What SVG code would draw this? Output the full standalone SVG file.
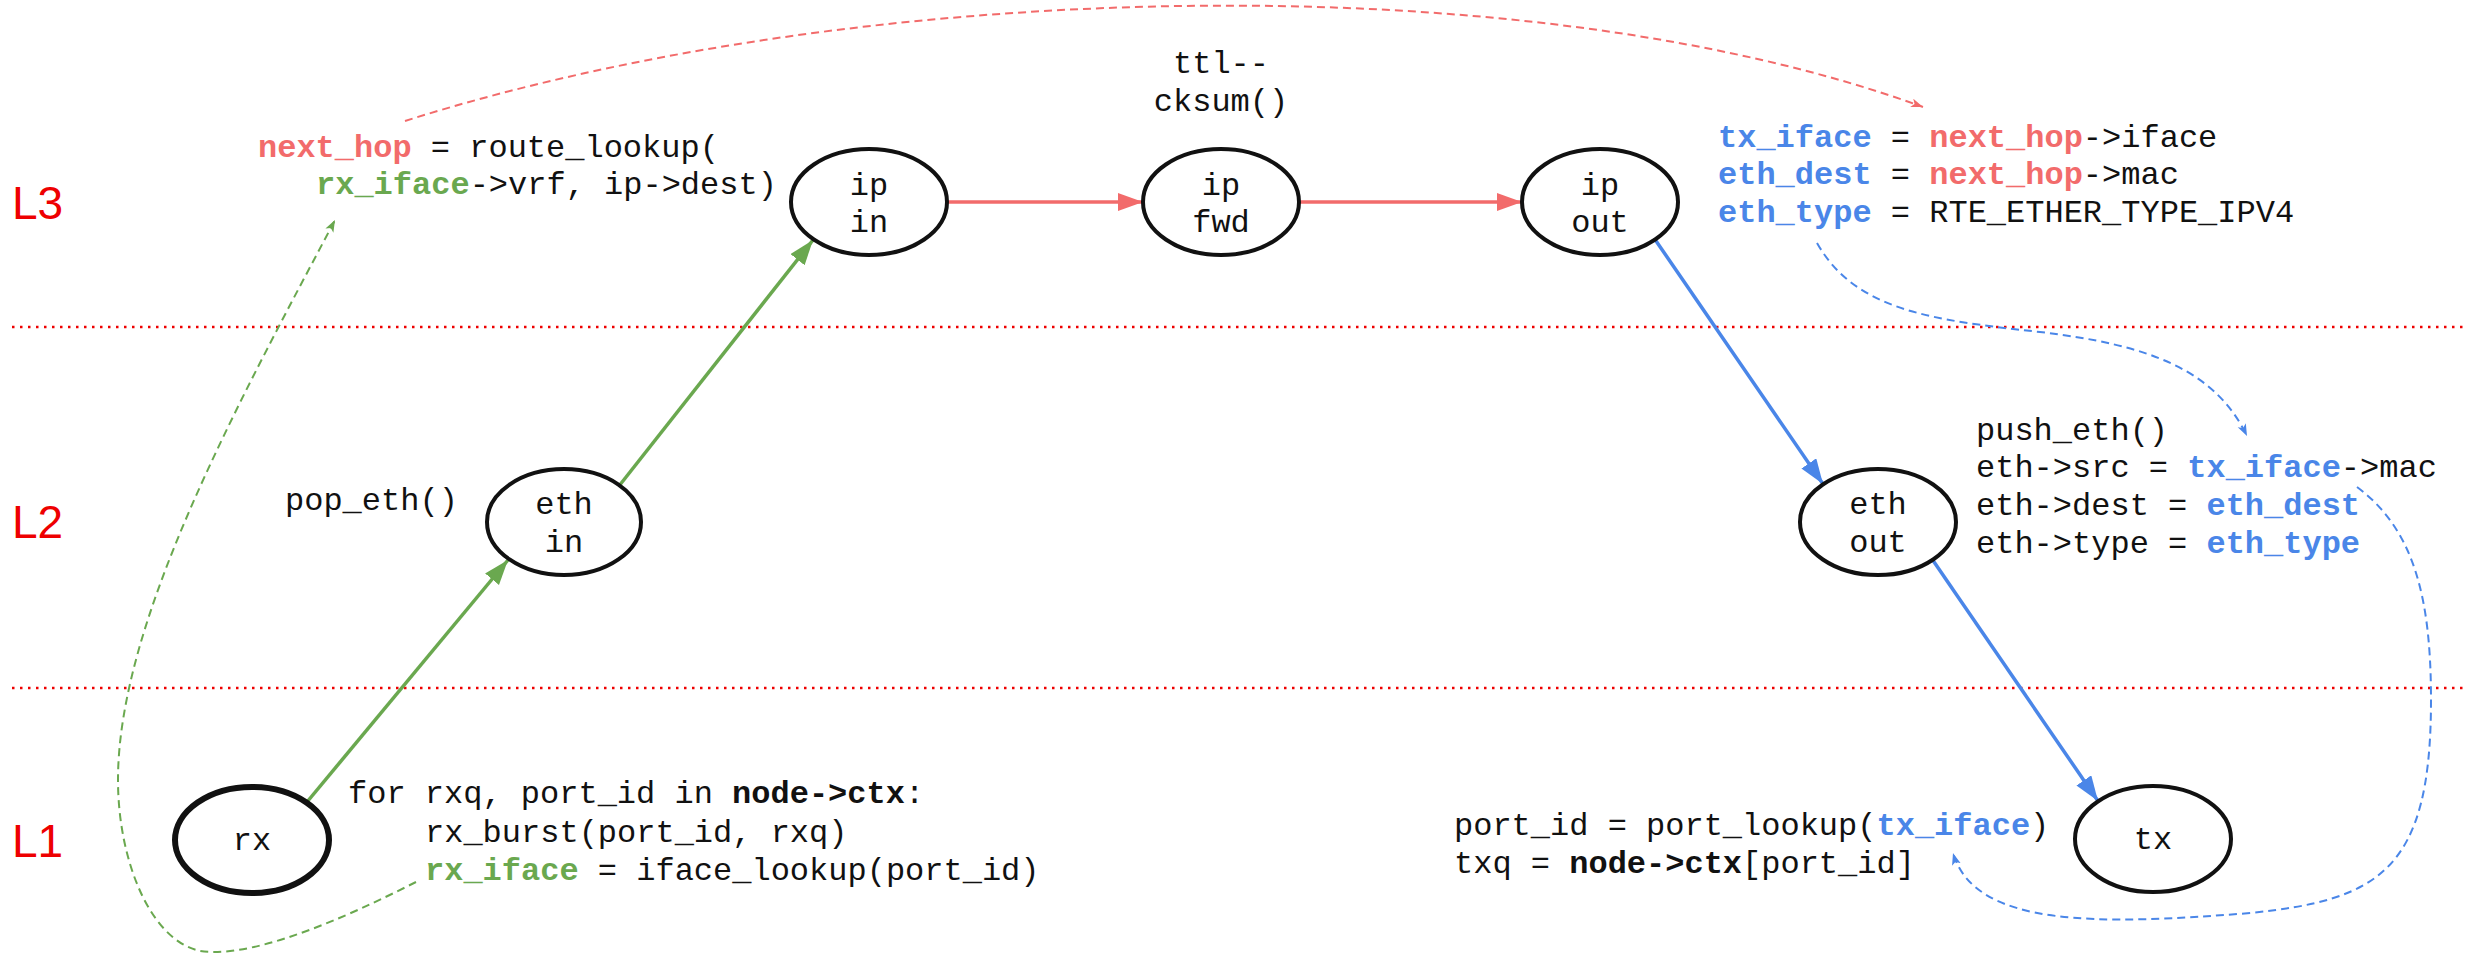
<svg xmlns="http://www.w3.org/2000/svg" width="2468" height="955" viewBox="0 0 2468 955">
<style>
.code{font-family:"Liberation Mono","DejaVu Sans Mono",monospace;font-size:32px;fill:#111}
.b{font-weight:bold}
.r{fill:#f26b6b;font-weight:bold}
.g{fill:#6aa84f;font-weight:bold}
.bl{fill:#4a86e8;font-weight:bold}
.node ellipse{fill:#fff;stroke:#111;stroke-width:4}
.lbl{font-family:"Liberation Mono","DejaVu Sans Mono",monospace;font-size:32px;text-anchor:middle;fill:#111}
.layer{font-family:"Liberation Sans",Arial,sans-serif;font-size:46px;fill:#e00}
.sep{stroke:#e00;stroke-width:2.5;stroke-dasharray:2.5 5.5;fill:none}
.e{fill:none;stroke-width:3.5}
.d{fill:none;stroke-width:2;stroke-dasharray:8 5}
</style>
<defs>
<marker id="ar" markerUnits="userSpaceOnUse" markerWidth="26" markerHeight="20" refX="25" refY="9" orient="auto"><path d="M0,0 L25,9 L0,18 z" fill="#f26b6b"/></marker>
<marker id="ag" markerUnits="userSpaceOnUse" markerWidth="26" markerHeight="20" refX="25" refY="9" orient="auto"><path d="M0,0 L25,9 L0,18 z" fill="#6aa84f"/></marker>
<marker id="ab" markerUnits="userSpaceOnUse" markerWidth="26" markerHeight="20" refX="25" refY="9" orient="auto"><path d="M0,0 L25,9 L0,18 z" fill="#4a86e8"/></marker>
<marker id="dr" markerUnits="userSpaceOnUse" markerWidth="14" markerHeight="10" refX="12" refY="4.5" orient="auto"><path d="M0,0 L12,4.5 L0,9 L3,4.5 z" fill="#f26b6b"/></marker>
<marker id="dg" markerUnits="userSpaceOnUse" markerWidth="14" markerHeight="10" refX="12" refY="4.5" orient="auto"><path d="M0,0 L12,4.5 L0,9 L3,4.5 z" fill="#6aa84f"/></marker>
<marker id="db" markerUnits="userSpaceOnUse" markerWidth="14" markerHeight="10" refX="12" refY="4.5" orient="auto"><path d="M0,0 L12,4.5 L0,9 L3,4.5 z" fill="#4a86e8"/></marker>
</defs>
<rect width="2468" height="955" fill="#fff"/>

<g id="layers">
<line class="sep" x1="12" y1="327" x2="2468" y2="327"/>
<line class="sep" x1="12" y1="688" x2="2468" y2="688"/>
<text class="layer" x="12" y="219">L3</text>
<text class="layer" x="12" y="538">L2</text>
<text class="layer" x="12" y="857">L1</text>
</g>

<g id="connectors">
<line class="e" x1="947" y1="202" x2="1143" y2="202" stroke="#f26b6b" marker-end="url(#ar)"/>
<line class="e" x1="1299" y1="202" x2="1522" y2="202" stroke="#f26b6b" marker-end="url(#ar)"/>
<line class="e" x1="307" y1="802" x2="508" y2="560" stroke="#6aa84f" marker-end="url(#ag)"/>
<line class="e" x1="619" y1="486" x2="813" y2="240" stroke="#6aa84f" marker-end="url(#ag)"/>
<line class="e" x1="1654" y1="238" x2="1823" y2="484" stroke="#4a86e8" marker-end="url(#ab)"/>
<line class="e" x1="1932" y1="559" x2="2098" y2="801" stroke="#4a86e8" marker-end="url(#ab)"/>
<path class="d" d="M405,121 C850,-20 1520,-40 1923,107" stroke="#f26b6b" marker-end="url(#dr)"/>
<path class="d" d="M416,882 C370,905 260,960 200,951 C150,940 118,860 118,780 C118,620 240,400 335,220" stroke="#6aa84f" marker-end="url(#dg)"/>
<path class="d" d="M1817,243 C1855,310 1930,320 2040,332 C2150,345 2215,370 2247,436" stroke="#4a86e8" marker-end="url(#db)"/>
<path class="d" d="M2357,487 C2415,530 2431,600 2431,700 C2431,870 2380,900 2250,913 C2100,925 1975,928 1953,853" stroke="#4a86e8" marker-end="url(#db)"/>
</g>

<g id="rx" class="node"><ellipse cx="252" cy="840" rx="77" ry="53" style="stroke-width:6"/><text class="lbl" x="252" y="850">rx</text></g>
<g id="eth_in" class="node"><ellipse cx="564" cy="522" rx="77" ry="53"/><text class="lbl" x="564" y="514">eth</text><text class="lbl" x="564" y="552">in</text></g>
<g id="ip_in" class="node"><ellipse cx="869" cy="202" rx="78" ry="53"/><text class="lbl" x="869" y="195">ip</text><text class="lbl" x="869" y="232">in</text></g>
<g id="ip_fwd" class="node"><ellipse cx="1221" cy="202" rx="78" ry="53"/><text class="lbl" x="1221" y="195">ip</text><text class="lbl" x="1221" y="232">fwd</text></g>
<g id="ip_out" class="node"><ellipse cx="1600" cy="202" rx="78" ry="53"/><text class="lbl" x="1600" y="195">ip</text><text class="lbl" x="1600" y="232">out</text></g>
<g id="eth_out" class="node"><ellipse cx="1878" cy="522" rx="78" ry="53"/><text class="lbl" x="1878" y="514">eth</text><text class="lbl" x="1878" y="552">out</text></g>
<g id="tx" class="node"><ellipse cx="2153" cy="839" rx="78" ry="53"/><text class="lbl" x="2153" y="849">tx</text></g>

<g id="texts">
<text class="code" x="258" y="157"><tspan class="r">next_hop</tspan> = route_lookup(</text>
<text class="code" x="316" y="194"><tspan class="g">rx_iface</tspan>-&gt;vrf, ip-&gt;dest)</text>
<text class="lbl" x="1221" y="73">ttl--</text>
<text class="lbl" x="1221" y="111">cksum()</text>
<text class="code" x="1718" y="147"><tspan class="bl">tx_iface</tspan> = <tspan class="r">next_hop</tspan>-&gt;iface</text>
<text class="code" x="1718" y="184"><tspan class="bl">eth_dest</tspan> = <tspan class="r">next_hop</tspan>-&gt;mac</text>
<text class="code" x="1718" y="222"><tspan class="bl">eth_type</tspan> = RTE_ETHER_TYPE_IPV4</text>
<text class="code" x="285" y="510">pop_eth()</text>
<text class="code" x="1976" y="440">push_eth()</text>
<text class="code" x="1976" y="477">eth-&gt;src = <tspan class="bl">tx_iface</tspan>-&gt;mac</text>
<text class="code" x="1976" y="515">eth-&gt;dest = <tspan class="bl">eth_dest</tspan></text>
<text class="code" x="1976" y="553">eth-&gt;type = <tspan class="bl">eth_type</tspan></text>
<text class="code" x="348" y="803">for rxq, port_id in <tspan class="b">node-&gt;ctx</tspan>:</text>
<text class="code" x="425" y="842">rx_burst(port_id, rxq)</text>
<text class="code" x="425" y="880"><tspan class="g">rx_iface</tspan> = iface_lookup(port_id)</text>
<text class="code" x="1454" y="835">port_id = port_lookup(<tspan class="bl">tx_iface</tspan>)</text>
<text class="code" x="1454" y="873">txq = <tspan class="b">node-&gt;ctx</tspan>[port_id]</text>
</g>
</svg>
